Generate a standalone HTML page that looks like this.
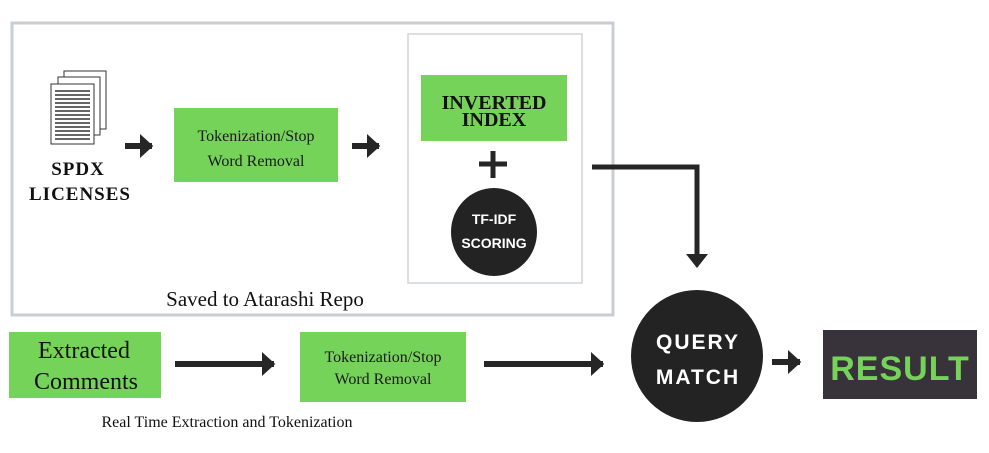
<!DOCTYPE html>
<html><head><style>
html,body{margin:0;padding:0;background:#fff;width:989px;height:453px;overflow:hidden}
text{font-family:"Liberation Serif",serif}
.s{font-family:"Liberation Sans",sans-serif;font-weight:bold}
</style></head><body>
<svg width="989" height="453" viewBox="0 0 989 453" xmlns="http://www.w3.org/2000/svg">
<defs>
<marker id="a" markerWidth="4" markerHeight="4" refX="2" refY="2" orient="auto" markerUnits="strokeWidth"><path d="M0,0 L2.2,2 L0,4 z" fill="#262626"/></marker>
</defs>
<!-- outer box -->
<rect x="12" y="23" width="601" height="292" fill="none" stroke="#c9ced3" stroke-width="3"/>
<rect x="408" y="34" width="174" height="249" fill="none" stroke="#d0d4d8" stroke-width="1.5"/>
<!-- doc icon -->
<g fill="#fff" stroke="#333" stroke-width="1">
<rect x="64" y="71" width="42" height="58"/>
<rect x="58" y="77" width="42" height="58"/>
<rect x="51" y="84" width="43" height="60"/>
</g>
<g stroke="#333" stroke-width="1.6">
<line x1="55" y1="91" x2="90" y2="91"/><line x1="55" y1="95" x2="90" y2="95"/><line x1="55" y1="99" x2="90" y2="99"/><line x1="55" y1="103" x2="90" y2="103"/><line x1="55" y1="107" x2="90" y2="107"/><line x1="55" y1="111" x2="90" y2="111"/><line x1="55" y1="115" x2="90" y2="115"/><line x1="55" y1="119" x2="90" y2="119"/><line x1="55" y1="123" x2="90" y2="123"/><line x1="55" y1="127" x2="90" y2="127"/><line x1="55" y1="131" x2="90" y2="131"/><line x1="55" y1="135" x2="90" y2="135"/><line x1="55" y1="139" x2="90" y2="139"/>
</g>
<text x="78" y="175" font-size="19" font-weight="bold" text-anchor="middle" fill="#111" letter-spacing="1">SPDX</text>
<text x="80" y="200" font-size="19" font-weight="bold" text-anchor="middle" fill="#111" letter-spacing="1">LICENSES</text>
<!-- arrows top -->
<line x1="125" y1="146" x2="152" y2="146" stroke="#262626" stroke-width="6" marker-end="url(#a)"/>
<line x1="352" y1="146" x2="379" y2="146" stroke="#262626" stroke-width="6" marker-end="url(#a)"/>
<!-- tokenization 1 -->
<rect x="174" y="108" width="164" height="74" fill="#76d35a"/>
<text x="256" y="141" font-size="16" text-anchor="middle" fill="#1a1a1a">Tokenization/Stop</text>
<text x="256" y="166" font-size="16" text-anchor="middle" fill="#1a1a1a">Word Removal</text>
<!-- inverted index -->
<rect x="421" y="75" width="146" height="66" fill="#76d35a"/>
<text x="494" y="109" font-size="20" font-weight="bold" text-anchor="middle" fill="#111">INVERTED</text>
<text x="494" y="126" font-size="20" font-weight="bold" text-anchor="middle" fill="#111">INDEX</text>
<line x1="493" y1="151" x2="493" y2="178" stroke="#262626" stroke-width="5"/>
<line x1="479" y1="164" x2="507" y2="164" stroke="#262626" stroke-width="5"/>
<ellipse cx="494" cy="232" rx="43" ry="44" fill="#232323"/>
<text x="494" y="224" class="s" font-size="14" text-anchor="middle" fill="#fff">TF-IDF</text>
<text x="494" y="248" class="s" font-size="14" text-anchor="middle" fill="#fff">SCORING</text>
<text x="265" y="306" font-size="21" text-anchor="middle" fill="#111">Saved to Atarashi Repo</text>
<!-- connector -->
<polyline points="592,167 697,167 697,255" fill="none" stroke="#262626" stroke-width="5"/>
<path d="M686,254 L708,254 L697,268 z" fill="#262626"/>
<!-- bottom row -->
<rect x="9" y="332" width="152" height="66" fill="#76d35a"/>
<text x="84" y="358" font-size="24" text-anchor="middle" fill="#111">Extracted</text>
<text x="86" y="389" font-size="24" text-anchor="middle" fill="#111">Comments</text>
<line x1="175" y1="364" x2="274" y2="364" stroke="#262626" stroke-width="6" marker-end="url(#a)"/>
<rect x="300" y="332" width="166" height="70" fill="#76d35a"/>
<text x="383" y="362" font-size="16" text-anchor="middle" fill="#1a1a1a">Tokenization/Stop</text>
<text x="383" y="384" font-size="16" text-anchor="middle" fill="#1a1a1a">Word Removal</text>
<line x1="484" y1="364" x2="603" y2="364" stroke="#262626" stroke-width="6" marker-end="url(#a)"/>
<text x="227" y="427" font-size="16" text-anchor="middle" fill="#111">Real Time Extraction and Tokenization</text>
<!-- query match -->
<circle cx="697" cy="356" r="66" fill="#232323"/>
<text x="698" y="349" class="s" font-size="21" text-anchor="middle" fill="#fff" letter-spacing="2">QUERY</text>
<text x="698" y="384" class="s" font-size="21" text-anchor="middle" fill="#fff" letter-spacing="2">MATCH</text>
<line x1="772" y1="362" x2="800" y2="362" stroke="#262626" stroke-width="6" marker-end="url(#a)"/>
<rect x="823" y="330" width="154" height="69" fill="#38333b"/>
<text x="900" y="380" class="s" font-size="34" text-anchor="middle" fill="#76d35a" letter-spacing="1">RESULT</text>
</svg>
</body></html>
